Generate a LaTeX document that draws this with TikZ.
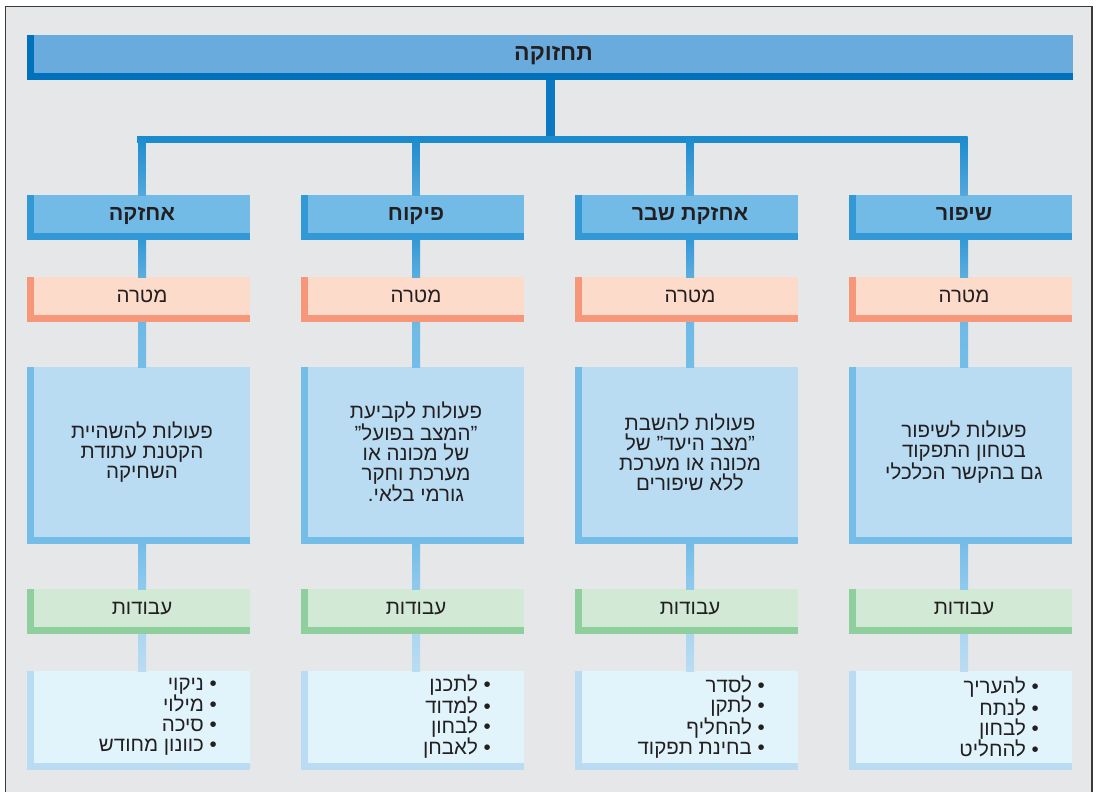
\documentclass[tikz,border=0pt]{standalone}
\usepackage{fontspec}
\newfontfamily\heb[Script=Hebrew]{Liberation Sans}
\TeXXeTstate=1
\usetikzlibrary{calc}
\newcommand\hb[1]{\beginR #1\endR}
\definecolor{bg}{HTML}{E6E7E9}
\definecolor{bordc}{HTML}{3A3A3C}
\definecolor{txt}{HTML}{231F20}
\definecolor{topF}{HTML}{69ABDC}
\definecolor{topS}{HTML}{0072BC}
\definecolor{topL}{HTML}{0B78C1}
\definecolor{busC}{HTML}{1B8BCD}
\definecolor{hF}{HTML}{72BBE7}
\definecolor{hS}{HTML}{3399D6}
\definecolor{mF}{HTML}{FDDBCB}
\definecolor{mS}{HTML}{F7977A}
\definecolor{bF}{HTML}{B9DCF3}
\definecolor{bS}{HTML}{74BDE8}
\definecolor{wF}{HTML}{D2E9D6}
\definecolor{wS}{HTML}{8ECF9D}
\definecolor{lF}{HTML}{E1F3FB}
\definecolor{lS}{HTML}{BADCF3}
\tikzset{
  shbox/.style={inner sep=0pt, outer sep=0pt, anchor=north west},
  inbox/.style={inner sep=0pt, outer sep=0pt, anchor=north east},
  titlefont/.style={font=\heb\bfseries\fontsize{23}{24}\selectfont, text height=14, text depth=0},
  headfont/.style={font=\heb\bfseries\fontsize{21.5}{24}\selectfont, text height=13, text depth=0},
  labfont/.style={font=\heb\fontsize{20.5}{20}\selectfont, text height=12, text depth=0},
  bodyfont/.style={font=\heb\fontsize{20.5}{20}\selectfont},
}
\newcommand\mkcol[5]{%
  % full boxes (shadow colour) and inner boxes
  \node[shbox, fill=hS, minimum width=223, minimum height=45] (h#1) at (#2,195) {};
  \node[inbox, fill=hF, minimum width=216, minimum height=38, headfont] (h#1i) at (h#1.north east) {#3};
  \node[shbox, fill=mS, minimum width=223, minimum height=45] (m#1) at (#2,277) {};
  \node[inbox, fill=mF, minimum width=216, minimum height=38, labfont] (m#1i) at (m#1.north east) {\hb{מטרה}};
  \node[shbox, fill=bS, minimum width=223, minimum height=177] (b#1) at (#2,367) {};
  \node[inbox, fill=bF, minimum width=216, minimum height=170, bodyfont, align=center] (b#1i) at (b#1.north east) {#4};
  \node[shbox, fill=wS, minimum width=223, minimum height=45] (w#1) at (#2,589) {};
  \node[inbox, fill=wF, minimum width=216, minimum height=38, labfont] (w#1i) at (w#1.north east) {\hb{עבודות}};
  \node[shbox, fill=lS, minimum width=223, minimum height=99] (l#1) at (#2,671) {};
  \node[inbox, fill=lF, minimum width=216, minimum height=92] (l#1i) at (l#1.north east) {};
  \node[bodyfont, align=right, anchor=east, inner sep=0pt] (l#1t) at ($(l#1i.east)+(-33,0)$) {#5};
  % connectors
  \shade[top color=busC, bottom color=hS!85!white] ($(h#1i.center|-bus)+(-3.5,0)$) rectangle ($(h#1i.center|-h#1.north)+(3.5,0)$);
  \shade[top color=hS, bottom color=hS!80!white] ($(h#1i.center|-h#1.south)+(-4,0)$) rectangle ($(h#1i.center|-m#1.north)+(4,0)$);
  \shade[top color=bS!90!hS, bottom color=bS] ($(h#1i.center|-m#1.south)+(-4,0)$) rectangle ($(h#1i.center|-b#1.north)+(4,0)$);
  \shade[top color=bS, bottom color=bS!80!white] ($(h#1i.center|-b#1.south)+(-4,0)$) rectangle ($(h#1i.center|-w#1.north)+(4,0)$);
  \shade[top color=lS!80!bS, bottom color=lS] ($(h#1i.center|-w#1.south)+(-4,0)$) rectangle ($(h#1i.center|-l#1.north)+(4,0)$);
}
\begin{document}
\begin{tikzpicture}[x=1pt,y=-1pt, every node/.style={text=txt}]
\useasboundingbox (0,0) rectangle (1096,792);
\fill[white] (0,0) rectangle (1096,792);
\fill[bg] (5.5,6.5) rectangle (1092,800);
\draw[bordc, line width=1.6] (5.5,800) -- (5.5,6.5) -- (1092,6.5) -- (1092,800);
% top box
\node[shbox, fill=topS, minimum width=1046, minimum height=45] (top) at (27,35) {};
\node[inbox, fill=topF, minimum width=1039, minimum height=38, titlefont] (topi) at (top.north east) {\hb{תחזוקה}};
\coordinate (bus) at (551,136);
\coordinate (busb) at (551,143);
\fill[topL] ($(top.south)+(-4,0)$) rectangle ($(busb)+(4,0)$);
\fill[busC] (137,136) rectangle (966,143);
\mkcol{1}{27}{\hb{אחזקה}}{\hb{פעולות להשהיית}\\\hb{הקטנת עתודת}\\\hb{השחיקה}}{\hb{• ניקוי}\\\hb{• מילוי}\\\hb{• סיכה}\\\hb{• כוונון מחודש}}
\mkcol{2}{301}{\hb{פיקוח}}{\hb{פעולות לקביעת}\\\hb{”המצב בפועל”}\\\hb{של מכונה או}\\\hb{מערכת וחקר}\\\hb{גורמי בלאי.}}{\hb{• לתכנן}\\\hb{• למדוד}\\\hb{• לבחון}\\\hb{• לאבחן}}
\mkcol{3}{575}{\hb{אחזקת שבר}}{\hb{פעולות להשבת}\\\hb{”מצב היעד” של}\\\hb{מכונה או מערכת}\\\hb{ללא שיפורים}}{\hb{• לסדר}\\\hb{• לתקן}\\\hb{• להחליף}\\\hb{• בחינת תפקוד}}
\mkcol{4}{849}{\hb{שיפור}}{\hb{פעולות לשיפור}\\\hb{בטחון התפקוד}\\\hb{גם בהקשר הכלכלי}}{\hb{• להעריך}\\\hb{• לנתח}\\\hb{• לבחון}\\\hb{• להחליט}}
\end{tikzpicture}
\end{document}
